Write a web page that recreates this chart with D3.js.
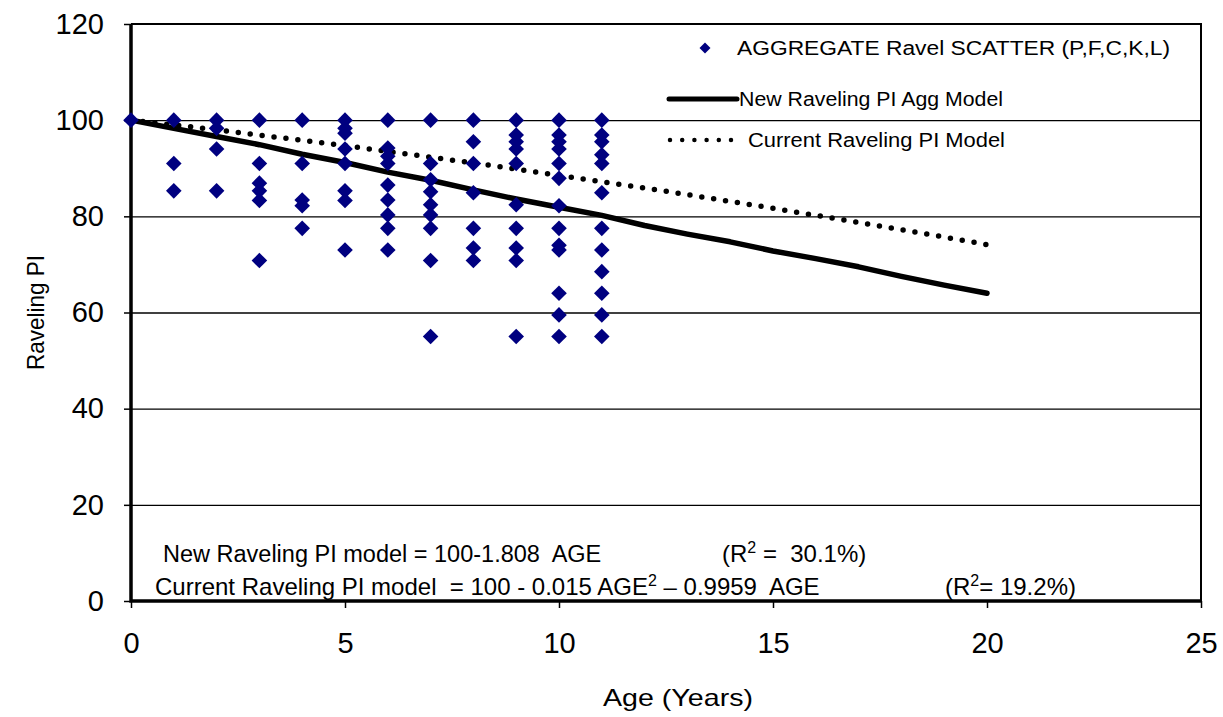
<html>
    <head>
        <script src="https://d3js.org/d3.v7.min.js"></script>
        <style>
            body { margin: 0; background: #fff; }
            svg text { font-family: "Liberation Sans", Arial, sans-serif; fill: #000; }
            .gridlines line { stroke: #000; stroke-width: 1.3; }
            .gridlines .domain { stroke: none; }
        </style>
    </head>
    <body>
        <svg id="chart" width="1223" height="717"></svg>
        <script>
            // scatter points, one list per age
            const scatterAges = [0, 1, 2, 3, 4, 5, 6, 7, 8, 9, 10, 11];
            const scatterPI = [
                [100],
                [100, 91.0, 85.3],
                [100, 98.3, 94.0, 85.3],
                [100, 91.0, 86.9, 85.3, 83.3, 70.8],
                [100, 91.0, 83.4, 82.2, 77.5],
                [100, 98.3, 97.3, 94.0, 91.0, 85.3, 83.3, 73.0],
                [100, 94.2, 92.5, 91.0, 86.5, 83.4, 80.3, 77.5, 73.0],
                [100, 91.0, 87.6, 85.1, 82.4, 80.3, 77.5, 70.8, 55.0],
                [100, 95.5, 91.0, 84.9, 77.5, 73.4, 70.8],
                [100, 96.9, 95.5, 94.0, 91.0, 82.4, 77.5, 73.4, 70.8, 55.0],
                [100, 96.9, 95.5, 94.0, 91.0, 87.9, 82.2, 77.5, 74.0, 73.0, 64.0, 59.5, 55.0],
                [100, 96.9, 95.5, 92.8, 91.0, 84.9, 77.5, 73.0, 68.5, 64.0, 59.5, 55.0]
            ];

            // model curves, ages 0..20
            const modelAges = [0, 1, 2, 3, 4, 5, 6, 7, 8, 9, 10, 11, 12, 13, 14, 15, 16, 17, 18, 19, 20];
            const newModelPI = [100, 98.3, 96.6, 94.9, 92.9, 91.2, 89.2, 87.5, 85.5, 83.6, 81.9,
                                80.2, 78.1, 76.3, 74.7, 72.8, 71.2, 69.5, 67.5, 65.7, 64.0];
            const currentModelPI = [100, 99.0, 98.0, 96.9, 95.8, 94.7, 93.5, 92.3, 91.1, 89.8, 88.5,
                                    87.2, 85.9, 84.5, 83.1, 81.7, 80.2, 78.7, 77.2, 75.7, 74.1];

            const xTicks = [0, 5, 10, 15, 20, 25];
            const yTicks = [0, 20, 40, 60, 80, 100, 120];

            const svg = d3.select('svg#chart');
            const width = +svg.attr('width');
            const height = +svg.attr('height');
            const margins = {top: 24, right: 22, bottom: 116, left: 131};
            const chartWidth = width - margins.left - margins.right;
            const chartHeight = height - margins.top - margins.bottom;

            const chartArea = svg.append('g')
                .attr('transform', `translate(${margins.left},${margins.top})`);

            const xScale = d3.scaleLinear().domain([0, 25]).range([0, chartWidth]);
            const yScale = d3.scaleLinear().domain([0, 120]).range([chartHeight, 0]);

            // horizontal gridlines
            const gridlines = d3.axisLeft(yScale).tickValues(yTicks.slice(1, -1))
                .tickSize(-chartWidth).tickFormat('');
            chartArea.append('g').attr('class', 'gridlines').call(gridlines);

            // y axis
            const leftAxis = d3.axisLeft(yScale).tickValues(yTicks).tickSize(7).tickPadding(20);
            const yAxis = chartArea.append('g').call(leftAxis);
            yAxis.select('.domain').remove();
            yAxis.selectAll('line').attr('stroke', '#000').attr('stroke-width', 1.5);
            yAxis.selectAll('text').style('font-size', '29px');

            // x axis
            const bottomAxis = d3.axisBottom(xScale).tickValues(xTicks).tickSize(7).tickPadding(24);
            const xAxis = chartArea.append('g')
                .attr('transform', `translate(0,${chartHeight})`)
                .call(bottomAxis);
            xAxis.select('.domain').remove();
            xAxis.selectAll('line').attr('stroke', '#000').attr('stroke-width', 1.5);
            xAxis.selectAll('text').style('font-size', '29px');

            // frame
            chartArea.append('path')
                .attr('d', `M0,0H${chartWidth}V${chartHeight}`)
                .attr('fill', 'none').attr('stroke', '#000').attr('stroke-width', 2);
            chartArea.append('path')
                .attr('d', `M0,0V${chartHeight}H${chartWidth}`)
                .attr('fill', 'none').attr('stroke', '#000').attr('stroke-width', 3.5);

            // model lines
            const line = d3.line().x(d => xScale(d[0])).y(d => yScale(d[1]));
            chartArea.append('path')
                .datum(modelAges.map((a, i) => [a, currentModelPI[i]]))
                .attr('d', line)
                .attr('fill', 'none').attr('stroke', '#000').attr('stroke-width', 5.5)
                .attr('stroke-linecap', 'round').attr('stroke-dasharray', '0 12');
            chartArea.append('path')
                .datum(modelAges.map((a, i) => [a, newModelPI[i]]))
                .attr('d', line)
                .attr('fill', 'none').attr('stroke', '#000').attr('stroke-width', 5.5)
                .attr('stroke-linejoin', 'round').attr('stroke-linecap', 'round');

            // scatter diamonds
            const diamond = r => `M0,${-r}L${r},0L0,${r}L${-r},0Z`;
            const points = [];
            scatterAges.forEach((a, i) => scatterPI[i].forEach(v => points.push([a, v])));
            chartArea.selectAll('path.pt').data(points).enter().append('path')
                .attr('class', 'pt')
                .attr('d', diamond(7.8))
                .attr('transform', d => `translate(${xScale(d[0])},${yScale(d[1])})`)
                .attr('fill', '#000080');

            // text piece; squeezed to a given span when len is set
            function piece(sel, x, y, size, len, str) {
                const t = sel.append('text').attr('x', x).attr('y', y).style('font-size', size + 'px')
                    .attr('xml:space', 'preserve').text(str);
                if (len) t.attr('textLength', len).attr('lengthAdjust', 'spacingAndGlyphs');
                return t;
            }
            // text with a superscript 2 after the first part
            function withSquare(sel, x, y, size, before, after) {
                const t = sel.append('text').attr('x', x).attr('y', y).style('font-size', size + 'px')
                    .attr('xml:space', 'preserve');
                t.append('tspan').text(before);
                t.append('tspan').attr('dy', -9).style('font-size', '16px').text('2');
                t.append('tspan').attr('dy', 9).text(after);
                return t;
            }

            // legend
            const legend = svg.append('g');
            legend.append('path').attr('d', diamond(5.5))
                .attr('transform', 'translate(705,48)').attr('fill', '#000080');
            piece(legend, 737, 55, 20, 433, 'AGGREGATE Ravel SCATTER (P,F,C,K,L)');
            legend.append('line').attr('x1', 669).attr('x2', 737).attr('y1', 99).attr('y2', 99)
                .attr('stroke', '#000').attr('stroke-width', 5).attr('stroke-linecap', 'round');
            piece(legend, 739, 106, 20, 264, 'New Raveling PI Agg Model');
            legend.append('line').attr('x1', 670).attr('x2', 732).attr('y1', 140).attr('y2', 140)
                .attr('stroke', '#000').attr('stroke-width', 4.5).attr('stroke-linecap', 'round')
                .attr('stroke-dasharray', '0 12.2');
            piece(legend, 748, 147, 20, 257, 'Current Raveling PI Model');

            // model equations
            const eqs = svg.append('g');
            piece(eqs, 163, 562, 23.5, 0, 'New Raveling PI model = 100-1.808  AGE');
            withSquare(eqs, 722, 562, 24, '(R', ' =  30.1%)');
            withSquare(eqs, 155, 595, 24, 'Current Raveling PI model  = 100 - 0.015 AGE', ' \u2013 0.9959  AGE');
            withSquare(eqs, 945, 595, 24, '(R', '= 19.2%)');

            // axis titles
            piece(svg, 603, 706, 24, 150, 'Age (Years)');
            svg.append('text').attr('transform', 'translate(44,370) rotate(-90)')
                .style('font-size', '24px').attr('textLength', 115).attr('lengthAdjust', 'spacingAndGlyphs')
                .text('Raveling PI');
        </script>
    </body>
</html>
